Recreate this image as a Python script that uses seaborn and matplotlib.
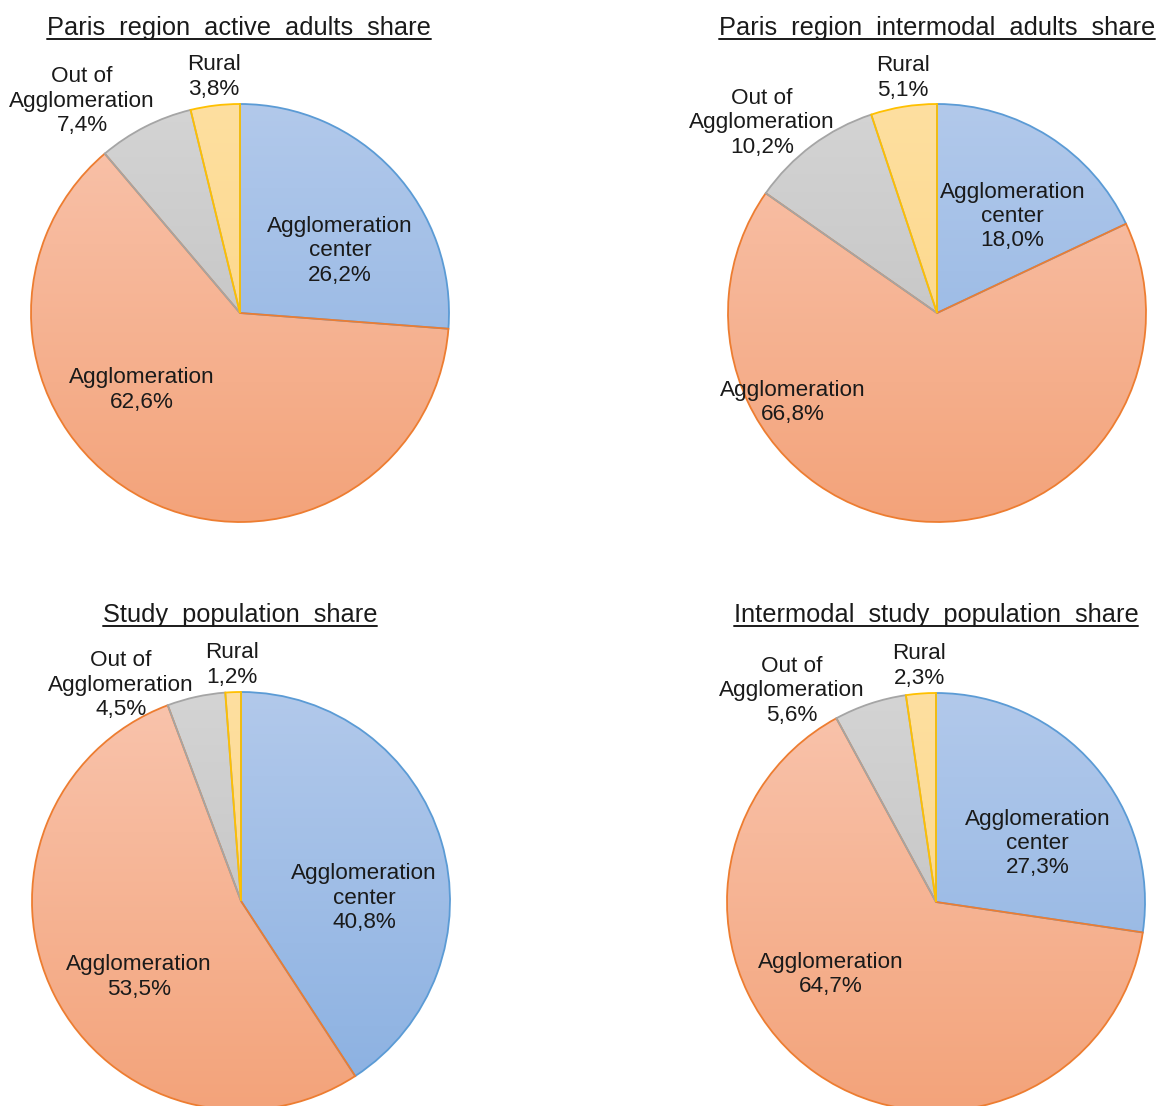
import numpy as np
import matplotlib
matplotlib.use("Agg")
import matplotlib.pyplot as plt
from matplotlib.lines import Line2D
import seaborn as sns

sns.set_theme(style="white")
plt.rcParams['font.family'] = ['Liberation Sans', 'DejaVu Sans']

# ---------------- data ----------------
categories = ["Agglomeration\ncenter", "Agglomeration", "Out of\nAgglomeration", "Rural"]
titles = [
    "Paris  region  active  adults  share",
    "Paris  region  intermodal  adults  share",
    "Study  population  share",
    "Intermodal  study  population  share",
]
active_adults = [26.2, 62.6, 7.4, 3.8]
intermodal_adults = [18.0, 66.8, 10.2, 5.1]
study_population = [40.8, 53.5, 4.5, 1.2]
intermodal_study = [27.3, 64.7, 5.6, 2.3]
series = [active_adults, intermodal_adults, study_population, intermodal_study]

# ---------------- styling / layout ----------------
W, H = 1170, 1106
edge_colors = ["#5b9bd5", "#ed7d31", "#a5a5a5", "#ffc000"]
grad_top = [(178, 201, 235), (249, 196, 173), (212, 212, 212), (254, 223, 160)]
grad_bot = [(138, 176, 225), (243, 163, 122), (188, 188, 188), (253, 212, 125)]

# pie centres / radius in pixels
centers = [(240, 313), (937, 313), (241, 901), (936, 902)]
radius = 209
title_pos = [(239, 28), (937, 28), (240, 615), (936, 615)]

# label offsets in pie-radius units
label_offsets = [
    [(0.478, 0.297), (-0.469, -0.368), (-0.756, 1.014), (-0.124, 1.129)],
    [(0.362, 0.462), (-0.690, -0.429), (-0.838, 0.910), (-0.162, 1.124)],
    [(0.589, 0.014), (-0.488, -0.364), (-0.574, 1.033), (-0.043, 1.129)],
    [(0.486, 0.281), (-0.505, -0.348), (-0.690, 1.010), (-0.081, 1.129)],
]

text_color = "#1a1a1a"

fig = plt.figure(figsize=(W / 100, H / 100), dpi=100)
fig.patch.set_facecolor("white")

title_texts = []
for i, vals in enumerate(series):
    cx, cy = centers[i]
    ax = fig.add_axes([(cx - radius) / W, 1 - (cy + radius) / H, 2 * radius / W, 2 * radius / H])
    wedges, _ = ax.pie(vals, startangle=90, counterclock=False, radius=1.0,
                       colors=["none"] * 4,
                       wedgeprops=dict(linewidth=1.3))
    ax.set_xlim(-1, 1)
    ax.set_ylim(-1, 1)
    ax.set_aspect("equal")
    ax.axis("off")
    for j, w in enumerate(wedges):
        w.set_edgecolor(edge_colors[j])
        w.set_zorder(3)
        t = np.linspace(0, 1, 256)[:, None]
        top = np.array(grad_top[j]) / 255.0
        bot = np.array(grad_bot[j]) / 255.0
        img = top[None, None, :] * (1 - t[:, :, None]) + bot[None, None, :] * t[:, :, None]
        img = np.repeat(img, 2, axis=1)
        im = ax.imshow(img, extent=(-1, 1, -1, 1), origin="upper", zorder=2,
                       interpolation="bilinear", aspect="auto")
        im.set_clip_path(w)
    ax.set_xlim(-1, 1)
    ax.set_ylim(-1, 1)
    for j, v in enumerate(vals):
        lab = categories[j] + "\n" + f"{v:.1f}".replace(".", ",") + "%"
        dx, dy = label_offsets[i][j]
        ax.text(dx, dy, lab, ha="center", va="center", fontsize=16.2,
                color=text_color, linespacing=1.2, zorder=5, clip_on=False)
    tx, ty = title_pos[i]
    tt = fig.text(tx / W, 1 - ty / H, titles[i], ha="center", va="center",
                  fontsize=18.3, color=text_color)
    title_texts.append(tt)

fig.canvas.draw()
renderer = fig.canvas.get_renderer()
for tt in title_texts:
    bb = tt.get_window_extent(renderer)
    y = bb.y0 + 1
    fig.add_artist(Line2D([bb.x0 / W, bb.x1 / W], [y / H, y / H],
                          transform=fig.transFigure, color=text_color, linewidth=1.4))

fig.savefig("out.png", dpi=100, facecolor="white")
